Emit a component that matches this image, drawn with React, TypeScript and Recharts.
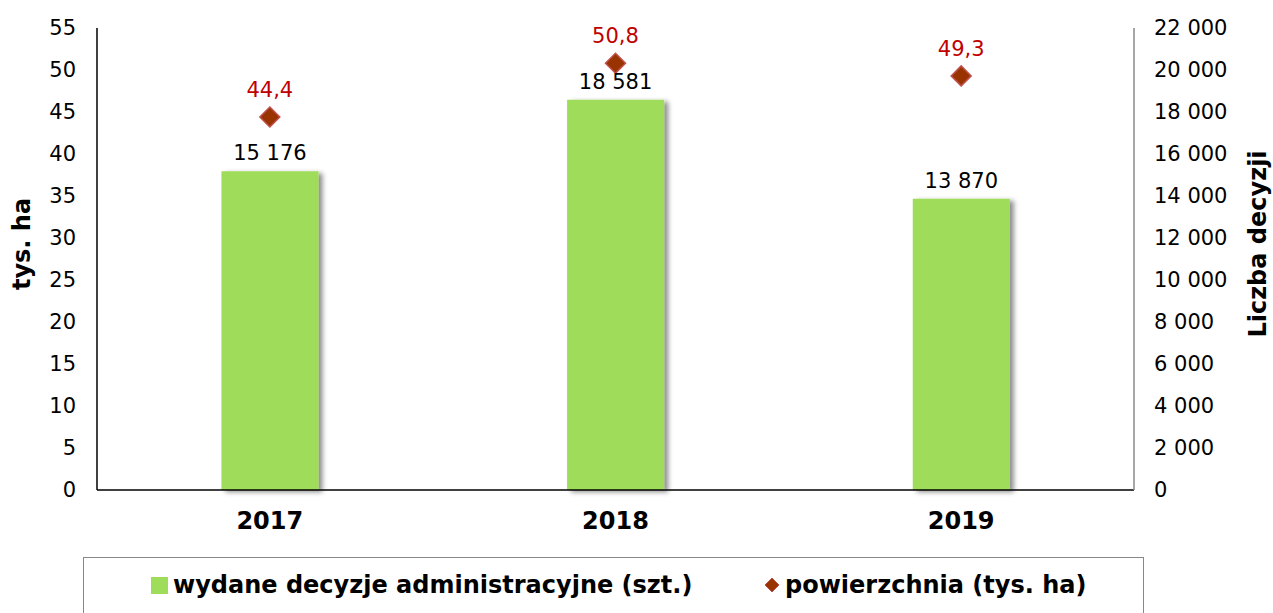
import { ComposedChart, Bar, Line, XAxis, YAxis, LabelList } from "recharts";

const years = ["2017", "2018", "2019"];
const decisions = [15176, 18581, 13870];
const areaThousandHa = [44.4, 50.8, 49.3];
const leftTicks = [0, 5, 10, 15, 20, 25, 30, 35, 40, 45, 50, 55];
const rightTicks = [0, 2000, 4000, 6000, 8000, 10000, 12000, 14000, 16000, 18000, 20000, 22000];
const seriesNames = ["wydane decyzje administracyjne (szt.)", "powierzchnia (tys. ha)"];

const data = years.map((year, i) => ({ year, decisions: decisions[i], area: areaThousandHa[i] }));

const FONT = "'DejaVu Sans', Verdana, sans-serif";
const GREEN = "#9fdc5a";
const BROWN = "#993300";
const RED = "#c00000";

const spaced = (v: number) => String(v).replace(/\B(?=(\d{3})+(?!\d))/g, " ");
const comma = (v: number) => v.toFixed(1).replace(".", ",");

function Diamond(props: any) {
  const { cx, cy } = props;
  if (cx == null || cy == null) return null;
  const r = 10;
  return (
    <polygon
      points={`${cx},${cy - r} ${cx + r},${cy} ${cx},${cy + r} ${cx - r},${cy}`}
      fill={BROWN}
      stroke="#c0504d"
      strokeWidth={1.5}
    />
  );
}

function AxisTitle({ viewBox, text, dx }: any) {
  if (!viewBox) return null;
  const x = viewBox.x + dx;
  const y = viewBox.y + viewBox.height / 2 - 15;
  return (
    <text
      x={x}
      y={y}
      transform={`rotate(-90 ${x} ${y})`}
      textAnchor="middle"
      dominantBaseline="central"
      fontFamily={FONT}
      fontWeight="bold"
      fontSize={24}
      fill="#000"
    >
      {text}
    </text>
  );
}

export default function App() {
  return (
    <div style={{ position: "absolute", left: 0, top: 0, width: 1273, height: 613, background: "#fff", overflow: "hidden" }}>
      <ComposedChart
        width={1273}
        height={613}
        data={data}
        barCategoryGap="36%"
        margin={{ top: 28, right: 0, left: 0, bottom: 63 }}
      >
        <defs>
          <filter id="barShadow" x="-20%" y="-10%" width="150%" height="120%">
            <feDropShadow dx={4} dy={2} stdDeviation={2.5} floodColor="#000" floodOpacity={0.45} />
          </filter>
        </defs>
        <XAxis
          dataKey="year"
          axisLine={{ stroke: "#000", strokeWidth: 1.5 }}
          tickLine={false}
          tickSize={0}
          tickMargin={22}
          height={60}
          tick={{ fill: "#000", fontFamily: FONT, fontWeight: "bold", fontSize: 24 }}
        />
        <YAxis
          yAxisId="left"
          orientation="left"
          width={97}
          domain={[0, 55]}
          ticks={leftTicks}
          interval={0}
          axisLine={{ stroke: "#000", strokeWidth: 1.5 }}
          tickLine={false}
          tickSize={0}
          tickMargin={21}
          tick={{ fill: "#000", fontFamily: FONT, fontSize: 21 }}
          label={(p: any) => <AxisTitle {...p} text="tys. ha" dx={22} />}
        />
        <YAxis
          yAxisId="right"
          orientation="right"
          width={139}
          domain={[0, 22000]}
          ticks={rightTicks}
          interval={0}
          axisLine={{ stroke: "#888", strokeWidth: 1.5 }}
          tickLine={false}
          tickSize={0}
          tickMargin={20}
          tickFormatter={spaced}
          tick={{ fill: "#000", fontFamily: FONT, fontSize: 21, textAnchor: "start" }}
          label={(p: any) => <AxisTitle {...p} text="Liczba decyzji" dx={124} />}
        />
        <Bar
          yAxisId="right"
          dataKey="decisions"
          name={seriesNames[0]}
          fill={GREEN}
          filter="url(#barShadow)"
          isAnimationActive={false}
        >
          <LabelList
            dataKey="decisions"
            position="top"
            offset={11}
            formatter={(v: any) => spaced(Number(v))}
            style={{ fill: "#000", fontFamily: FONT, fontSize: 21 }}
          />
        </Bar>
        <Line
          yAxisId="left"
          dataKey="area"
          name={seriesNames[1]}
          stroke="none"
          dot={<Diamond />}
          activeDot={false}
          isAnimationActive={false}
        >
          <LabelList
            dataKey="area"
            position="top"
            offset={20}
            formatter={(v: any) => comma(Number(v))}
            style={{ fill: RED, fontFamily: FONT, fontSize: 21 }}
          />
        </Line>
      </ComposedChart>
      <div
        style={{
          position: "absolute",
          left: 83,
          top: 557,
          width: 1061,
          height: 80,
          border: "1px solid #888",
          boxSizing: "border-box",
          fontFamily: FONT,
          fontWeight: "bold",
          fontSize: 24,
          color: "#000",
        }}
      >
        <div style={{ position: "absolute", left: 67, top: 13, display: "flex", alignItems: "center", whiteSpace: "nowrap" }}>
          <span style={{ display: "inline-block", width: 17, height: 17, background: GREEN, marginRight: 5 }} />
          {seriesNames[0]}
        </div>
        <div style={{ position: "absolute", left: 680, top: 13, display: "flex", alignItems: "center", whiteSpace: "nowrap" }}>
          <svg width={16} height={16} style={{ marginRight: 5 }}>
            <polygon points="8,1 15,8 8,15 1,8" fill={BROWN} stroke="#c0504d" strokeWidth={1} />
          </svg>
          {seriesNames[1]}
        </div>
      </div>
    </div>
  );
}
